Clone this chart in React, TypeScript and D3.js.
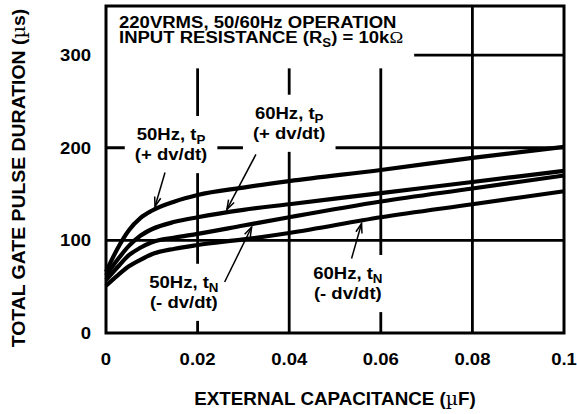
import React, { useEffect, useRef } from 'react';
import * as d3 from 'd3';

// external capacitance (uF) sample points
const capacitance = [0, 0.0025, 0.005, 0.0075, 0.01, 0.015, 0.02, 0.03, 0.04, 0.06, 0.08, 0.1];
// total gate pulse duration (us)
const hz50Pos = [66, 91, 111, 124, 132, 142, 149, 157, 164, 176, 189, 201];
const hz60Pos = [62, 79, 94, 105, 112, 120, 125, 133, 139, 151, 163, 175];
const hz50Neg = [57, 71, 84, 92, 98, 103, 107, 116, 125, 142, 156, 170];
const hz60Neg = [51, 62, 72, 79, 85, 91, 95, 101, 108, 125, 139, 153];

const xTicks = [0, 0.02, 0.04, 0.06, 0.08, 0.1];
const xTickLabels = ['0', '0.02', '0.04', '0.06', '0.08', '0.1'];
const yTicks = [0, 100, 200, 300];
const yTickLabels = ['0', '100', '200', '300'];

const titleLines = ['220VRMS, 50/60Hz OPERATION', 'INPUT RESISTANCE (R|S|) = 10k\u03A9'];

// annotation: label anchor (data units), arrow tip x, arrow tail offset (px), side of line
const notes = [
  { series: hz50Pos, text: ['50Hz, t|P', '(+ dv/dt)'], lx: 0.0142, ly: 208, tipX: 0.0107, tail: [10, -34], side: -1 },
  { series: hz60Pos, text: ['60Hz, t|P', '(+ dv/dt)'], lx: 0.04, ly: 231, tipX: 0.0264, tail: [29, -55], side: -1 },
  { series: hz50Neg, text: ['50Hz, t|N', '(- dv/dt)'], lx: 0.017, ly: 48.5, tipX: 0.0318, tail: [-27, 55], side: 1 },
  { series: hz60Neg, text: ['60Hz, t|N', '(- dv/dt)'], lx: 0.0528, ly: 58, tipX: 0.0558, tail: [-10, 35], side: 1 },
];

const W = 577;
const H = 414;
const FONT = 'Liberation Sans, Arial, Helvetica, sans-serif';
const SX = 1.09; // the source lettering is a little wider than Arial

export default function App() {
  const ref = useRef<SVGSVGElement>(null);

  useEffect(() => {
    if (!ref.current) return;
    const svg = d3.select(ref.current);
    svg.selectAll('*').remove();

    const m = { left: 106, right: 13, top: 6, bottom: 81 };
    const x = d3.scaleLinear().domain([0, 0.1]).range([m.left, W - m.right]);
    const y = d3.scaleLinear().domain([0, 353]).range([H - m.bottom, m.top]);
    const x0 = x(0), x1 = x(0.1), yb = y(0), yt = y(353);

    const gridG = svg.append('g');
    const maskG = svg.append('g');
    const curveG = svg.append('g');
    const textG = svg.append('g').attr('font-family', FONT).attr('font-weight', 'bold').attr('fill', '#000');

    // grid
    xTicks.slice(1, -1).forEach(t => {
      gridG.append('line').attr('x1', x(t)).attr('x2', x(t)).attr('y1', yt).attr('y2', yb)
        .attr('stroke', '#000').attr('stroke-width', 2.8);
    });
    yTicks.slice(1).forEach(t => {
      gridG.append('line').attr('x1', x0).attr('x2', x1).attr('y1', y(t)).attr('y2', y(t))
        .attr('stroke', '#000').attr('stroke-width', 2.8);
    });

    // stretched text block; returns bbox in svg coordinates
    const addLines = (lines: string[], px: number, py: number, anchor: string, lh: number, size: number, sx = SX) => {
      const g = textG.append('g').attr('transform', `translate(${px},${py}) scale(${sx},1)`);
      const t = g.append('text').attr('font-size', size).attr('text-anchor', anchor);
      lines.forEach((ln, i) => {
        const parts = ln.split('|');
        const row = t.append('tspan').attr('x', 0).attr('y', i * lh);
        parts.forEach((p, j) => {
          if (!p) return;
          if (j % 2 === 1) {
            row.append('tspan').attr('font-size', size * 0.72).attr('dy', 4).text(p);
          } else {
            const sp = row.append('tspan');
            if (j > 0) sp.attr('dy', -4);
            if (p.includes('\u03A9')) {
              sp.text(p.replace('\u03A9', ''));
              row.append('tspan').attr('font-family', 'Liberation Serif, serif').attr('font-weight', 'normal').text('\u03A9');
            } else sp.text(p);
          }
        });
      });
      const b = (t.node() as SVGTextElement).getBBox();
      return { x: px + b.x * sx, y: py + b.y, width: b.width * sx, height: b.height };
    };

    // title
    const tb = addLines(titleLines, x0 + 13, yt + 22, 'start', 15.5, 17);
    maskG.append('rect').attr('x', x0).attr('y', yt).attr('width', tb.x + tb.width + 11 - x0)
      .attr('height', tb.y + tb.height + 18 - yt).attr('fill', '#fff');

    // curve notes
    notes.forEach(n => {
      const b = addLines(n.text, x(n.lx), y(n.ly), 'middle', 20, 17);
      maskG.append('rect').attr('x', b.x - 10).attr('y', b.y - 9).attr('width', b.width + 20)
        .attr('height', b.height + 18).attr('fill', '#fff');
    });

    // curves
    const line = d3.line<number>().x((_, i) => x(capacitance[i])).y(d => y(d)).curve(d3.curveMonotoneX);
    [hz50Pos, hz60Pos, hz50Neg, hz60Neg].forEach(s => {
      curveG.append('path').datum(s).attr('d', line).attr('fill', 'none')
        .attr('stroke', '#000').attr('stroke-width', 4.2).attr('stroke-linejoin', 'round');
    });

    // arrows
    notes.forEach(n => {
      const interp = d3.scaleLinear().domain(capacitance).range(n.series);
      const tx = x(n.tipX);
      const ty = y(interp(n.tipX)) + n.side * 3;
      const sx = tx + n.tail[0];
      const sy = ty + n.tail[1];
      curveG.append('line').attr('x1', sx).attr('y1', sy).attr('x2', tx).attr('y2', ty)
        .attr('stroke', '#000').attr('stroke-width', 1.5);
      const ang = Math.atan2(ty - sy, tx - sx);
      const hl = 10, ha = 0.32;
      const p1 = [tx - hl * Math.cos(ang - ha), ty - hl * Math.sin(ang - ha)];
      const p2 = [tx - hl * Math.cos(ang + ha), ty - hl * Math.sin(ang + ha)];
      curveG.append('polyline').attr('points', `${p1.join(',')} ${tx},${ty} ${p2.join(',')}`)
        .attr('fill', 'none').attr('stroke', '#000').attr('stroke-width', 1.5);
    });

    // frame
    svg.append('rect').attr('x', x0).attr('y', yt).attr('width', x1 - x0).attr('height', yb - yt)
      .attr('fill', 'none').attr('stroke', '#000').attr('stroke-width', 3);

    // tick labels
    xTicks.forEach((t, i) => {
      addLines([xTickLabels[i]], x(t), yb + 32, 'middle', 0, 17);
    });
    yTicks.forEach((t, i) => {
      addLines([yTickLabels[i]], x0 - 15, y(t) + 6, 'end', 0, 17);
    });

    // axis titles
    const xg = textG.append('g').attr('transform', `translate(${(x0 + x1) / 2},405) scale(1.045,1)`);
    const xt = xg.append('text').attr('text-anchor', 'middle').attr('font-size', 18);
    xt.append('tspan').text('EXTERNAL CAPACITANCE (');
    xt.append('tspan').attr('font-family', 'DejaVu Serif, serif').attr('font-weight', 'normal').text('\u00B5');
    xt.append('tspan').text('F)');

    const yg = textG.append('g').attr('transform', `translate(25,178) rotate(-90) scale(1.05,1)`);
    const yl = yg.append('text').attr('text-anchor', 'middle').attr('font-size', 18.5);
    yl.append('tspan').text('TOTAL GATE PULSE DURATION (');
    yl.append('tspan').attr('font-family', 'DejaVu Serif, serif').attr('font-weight', 'normal').text('\u00B5');
    yl.append('tspan').text('s)');
  }, []);

  return (
    <svg ref={ref} width={W} height={H} style={{ position: 'absolute', left: 0, top: 0, background: '#fff' }} />
  );
}
